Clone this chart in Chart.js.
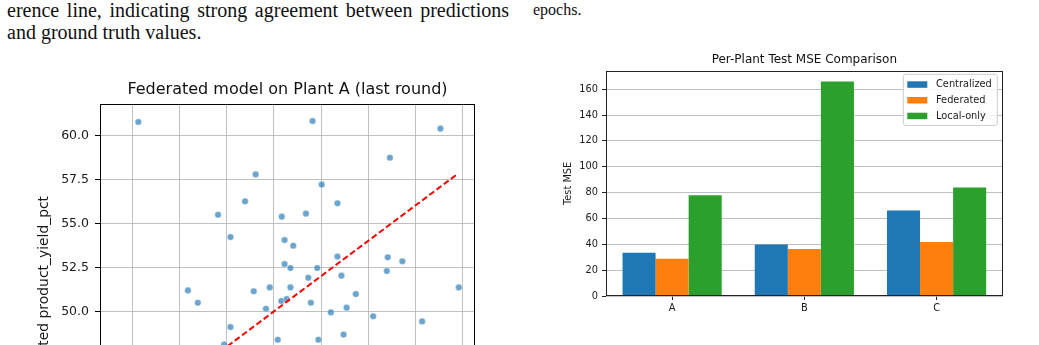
<!DOCTYPE html>
<html>
<head>
<meta charset="utf-8">
<script src="https://cdn.jsdelivr.net/npm/chart.js@4.4.0/dist/chart.umd.min.js"></script>
<style>
  html, body { margin: 0; padding: 0; background: #fff; }
  body { width: 1039px; height: 345px; overflow: hidden; position: relative; }
  .txt { position: absolute; font-family: 'Liberation Serif', 'Times New Roman', serif; color: #111; }
  #scatter { position: absolute; left: 0; top: 70px; }
  #bars { position: absolute; left: 540px; top: 45px; }
</style>
</head>
<body>
<div class="txt" style="left:7px; top:-1px; width:502px; font-size:20px; line-height:22px; text-align:justify; text-align-last:justify;">erence line, indicating strong agreement between predictions</div>
<div class="txt" style="left:7px; top:21px; font-size:20px; line-height:22px; white-space:nowrap;">and ground truth values.</div>
<div class="txt" style="left:533px; top:1px; font-size:16px; line-height:18px; white-space:nowrap;">epochs.</div>

<canvas id="scatter" width="500" height="460"></canvas>
<canvas id="bars" width="470" height="281"></canvas>

<script>
// scatter: true vs predicted yield for plant A (only the visible part of the plot)
const trueYield = [
  44.23, 51.64, 57.08, 54.93, 49.22, 52.03, 48.77, 52.70, 47.62, 51.36,
  50.33, 48.15, 50.45, 50.82, 52.70, 54.84, 55.46, 54.80, 50.45, 50.70,
  51.84, 51.46, 52.87, 46.34, 46.76, 49.14, 49.82, 50.70, 53.48, 57.86,
  50.31, 50.54, 51.57, 49.66, 53.09, 52.42, 54.22, 56.30, 48.15, 50.16,
  51.89, 52.96, 47.88
];
const predYield = [
  60.76, 60.81, 60.38, 58.73, 57.78, 57.20, 56.25, 56.14, 55.49, 55.55,
  55.38, 54.22, 54.05, 53.73, 53.11, 53.07, 52.84, 52.29, 52.69, 52.46,
  52.46, 51.91, 52.03, 51.19, 50.49, 51.14, 51.36, 51.36, 50.98, 51.36,
  50.59, 50.70, 50.49, 50.15, 50.21, 49.94, 49.72, 49.43, 49.11, 48.39,
  48.39, 48.68, 48.12
];
const refLine = [41.9, 57.8];

// bar chart: per-plant test MSE
const plants = ['A', 'B', 'C'];
const centralized = [33.4, 39.9, 66.2];
const federated = [28.8, 36.3, 41.7];
const localOnly = [78.0, 166.0, 84.0];

const FAMILY = "'DejaVu Sans', sans-serif";
Chart.defaults.font.family = FAMILY;
Chart.defaults.color = '#1a1a1a';

// matplotlib-like box around the plot area
const frame = {
  id: 'frame',
  afterDraw(chart, args, opts) {
    const { ctx, chartArea: a } = chart;
    const l = Math.round(a.left) + 0.5, t = Math.round(a.top) + 0.5;
    const r = Math.round(a.right) - 0.5, b = Math.round(a.bottom) - 0.5;
    ctx.save();
    ctx.strokeStyle = opts.color || '#000';
    ctx.lineWidth = 1;
    ctx.strokeRect(l, t, r - l, b - t);
    ctx.restore();
  }
};

// title centred over the plot area (not the whole canvas), like matplotlib
const areaTitle = {
  id: 'areaTitle',
  afterDraw(chart, args, o) {
    const { ctx, chartArea: a } = chart;
    ctx.save();
    ctx.font = o.size + 'px ' + FAMILY;
    ctx.fillStyle = '#111';
    ctx.textAlign = 'center';
    ctx.textBaseline = 'middle';
    ctx.fillText(o.text, (a.left + a.right) / 2, o.y);
    ctx.restore();
  }
};

// legend box in the upper right corner of the plot
const boxLegend = {
  id: 'boxLegend',
  afterDraw(chart, args, o) {
    const { ctx, chartArea: a } = chart;
    const sets = chart.data.datasets;
    ctx.save();
    ctx.font = o.fontSize + 'px ' + FAMILY;
    const textW = Math.max(...sets.map(d => ctx.measureText(d.label).width));
    const w = 4 + 20 + 8.7 + textW + 5.5;
    const h = 10 + (sets.length - 1) * 15.7 + 9.7;
    const x = a.right - 5.4 - w, y = a.top + 3.6;
    ctx.fillStyle = 'rgba(255,255,255,0.85)';
    ctx.strokeStyle = '#cccccc';
    ctx.lineWidth = 1;
    ctx.beginPath();
    ctx.roundRect(x, y, w, h, 2.5);
    ctx.fill();
    ctx.stroke();
    ctx.textBaseline = 'middle';
    sets.forEach((d, i) => {
      const cy = y + 10 + i * 15.7;
      ctx.fillStyle = d.backgroundColor;
      ctx.fillRect(x + 4, cy - 3, 20, 6.5);
      ctx.fillStyle = '#1a1a1a';
      ctx.fillText(d.label, x + 4 + 20 + 8.7, cy + 0.5);
    });
    ctx.restore();
  }
};

const GRID = 'rgba(176,176,176,0.8)';

new Chart(document.getElementById('scatter'), {
  type: 'scatter',
  data: {
    datasets: [
      {
        type: 'line',
        data: refLine.map(v => ({ x: v, y: v })),
        borderColor: '#ff0000',
        borderWidth: 2,
        borderDash: [6, 3],
        pointRadius: 0,
        fill: false,
        order: 0,
      },
      {
        data: trueYield.map((x, i) => ({ x, y: predYield[i] })),
        backgroundColor: 'rgba(31,119,180,0.66)',
        borderColor: 'rgba(255,255,255,0.7)',
        borderWidth: 0.6,
        pointRadius: 3.3,
        order: 1,
      }
    ]
  },
  options: {
    responsive: false,
    animation: false,
    layout: { padding: { left: 0, right: 25, top: 34, bottom: 0 } },
    plugins: {
      legend: { display: false },
      tooltip: { enabled: false },
      title: { display: false },
      areaTitle: { text: 'Federated model on Plant A (last round)', size: 16, y: 19.8 },
      frame: { color: '#000' },
    },
    scales: {
      x: {
        type: 'linear',
        min: 42.6,
        max: 58.55,
        afterFit: s => { s.height = 50; },
        ticks: { stepSize: 2, includeBounds: false, font: { size: 12.5 }, padding: 6 },
        grid: { color: GRID, tickColor: '#000', tickLength: 5 },
        border: { display: false },
        title: { display: true, text: 'True product_yield_pct', font: { size: 13.9 } },
      },
      y: {
        min: 40.42,
        max: 61.78,
        afterFit: s => { s.width = 100; },
        ticks: {
          stepSize: 2.5,
          includeBounds: false,
          callback: v => v.toFixed(1),
          font: { size: 12.5 },
          padding: 6,
        },
        grid: { color: GRID, tickColor: '#000', tickLength: 5 },
        border: { display: false },
        title: {
          display: true,
          text: 'Predicted product_yield_pct',
          font: { size: 13.9 },
          padding: { top: 36.5, bottom: 0 },
        },
      }
    }
  },
  plugins: [frame, areaTitle]
});

new Chart(document.getElementById('bars'), {
  type: 'bar',
  data: {
    labels: plants,
    datasets: [
      { label: 'Centralized', data: centralized, backgroundColor: '#1f77b4' },
      { label: 'Federated', data: federated, backgroundColor: '#ff7f0e' },
      { label: 'Local-only', data: localOnly, backgroundColor: '#2ca02c' },
    ]
  },
  options: {
    responsive: false,
    animation: false,
    layout: { padding: { left: 0, right: 7.3, top: 25.7, bottom: 0 } },
    datasets: { bar: { categoryPercentage: 0.75, barPercentage: 1.0, borderWidth: 0 } },
    plugins: {
      legend: { display: false },
      tooltip: { enabled: false },
      title: { display: false },
      areaTitle: { text: 'Per-Plant Test MSE Comparison', size: 12, y: 15 },
      frame: { color: '#222' },
      boxLegend: { fontSize: 9.8 },
    },
    scales: {
      x: {
        afterFit: s => { s.height = 30; },
        ticks: { font: { size: 9.8 }, padding: 3 },
        grid: { offset: false, drawOnChartArea: false, tickColor: '#222', tickLength: 4 },
        border: { display: false },
      },
      y: {
        min: 0,
        max: 174.3,
        afterFit: s => { s.width = 66; },
        ticks: { stepSize: 20, includeBounds: false, font: { size: 9.8 }, padding: 4 },
        grid: { color: GRID, tickColor: '#222', tickLength: 4 },
        border: { display: false },
        title: {
          display: true,
          text: 'Test MSE',
          font: { size: 9.8 },
          padding: { top: 23, bottom: 0 },
        },
      }
    }
  },
  plugins: [frame, areaTitle, boxLegend]
});
</script>
</body>
</html>
